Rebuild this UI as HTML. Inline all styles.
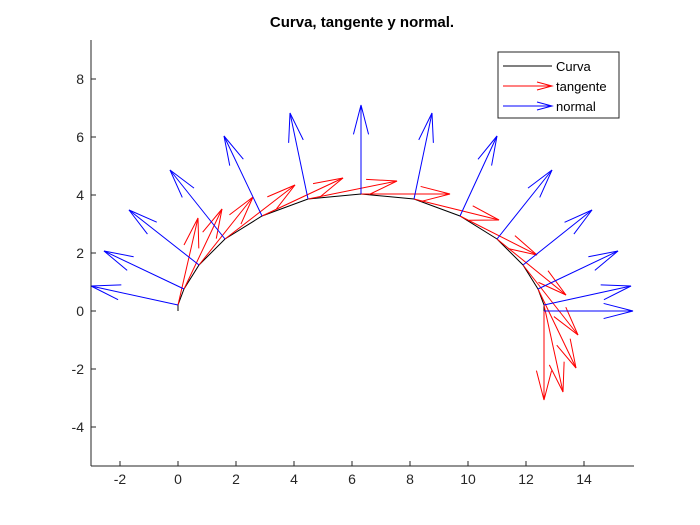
<!DOCTYPE html>
<html><head><meta charset="utf-8"><style>
html,body{margin:0;padding:0;background:#fff}
svg{display:block;font-family:"Liberation Sans",sans-serif}
</style></head><body>
<svg id="s" width="700" height="525" viewBox="0 0 700 525">
<rect width="700" height="525" fill="#fff"/>
<text x="362" y="27" text-anchor="middle" font-size="15" font-weight="bold" fill="#000">Curva, tangente y normal.</text>
<g id="plot"></g>
<g stroke="#262626" stroke-width="1" fill="none">
<line x1="91" y1="40" x2="91" y2="466"/>
<line x1="91" y1="466" x2="634" y2="466"/>
</g>
<g id="ticks" font-size="14" fill="#262626"></g>
<rect x="498" y="52" width="121" height="66" fill="#fff" stroke="#262626" stroke-width="1"/>
<line x1="503" y1="66" x2="552" y2="66" stroke="#000"/>
<text x="556" y="71" font-size="13">Curva</text>
<g stroke="#f00" fill="none"><line x1="503" y1="86" x2="552" y2="86"/><polyline points="537,82 552,86 537,90"/></g>
<text x="556" y="91" font-size="13">tangente</text>
<g stroke="#00f" fill="none"><line x1="503" y1="106" x2="552" y2="106"/><polyline points="537,102 552,106 537,110"/></g>
<text x="556" y="111" font-size="13">normal</text>
</svg>
<script>
var P=[[178,311],[178,305],[184,289],[199,265],[225,239],[262,216],[308,199],[361,194],[414,199],[460,216],[497,239],[523,265],[538,289],[544,305],[544,311]];
var R=[null,[198,218],[222,209],[253,197],[295,185],[343,178],[397,181],[450,194],[499,220],[537,255],[566,295],[578,335],[576,368],[563,392],[544,400]];
var B=[null,[91,286],[104,251],[129,210],[170,170],[224,136],[290,113],[361,105],[432,113],[497,136],[552,170],[592,210],[618,251],[631,286],[633,311]];
var g=document.getElementById('plot'),h='';
function arrow(a,b,c){var dx=b[0]-a[0],dy=b[1]-a[1],L=Math.hypot(dx,dy),ux=dx/L,uy=dy/L,hl=0.33*L,hw=0.085*L;
var bx=b[0]-ux*hl,by=b[1]-uy*hl;
return '<g stroke="'+c+'" fill="none" stroke-width="1"><line x1="'+a[0]+'" y1="'+a[1]+'" x2="'+b[0]+'" y2="'+b[1]+'"/><polyline points="'+(bx-uy*hw)+','+(by+ux*hw)+' '+b[0]+','+b[1]+' '+(bx+uy*hw)+','+(by-ux*hw)+'"/></g>';}
h+='<polyline fill="none" stroke="#000" stroke-width="1" points="'+P.map(function(p){return p.join(',')}).join(' ')+'"/>';
for(var i=1;i<P.length;i++){h+=arrow(P[i],R[i],'#f00');}
for(var i=1;i<P.length;i++){h+=arrow(P[i],B[i],'#00f');}
g.innerHTML=h;
var t='';
for(var v=-2;v<=14;v+=2){var x=178+29*v;t+='<line x1="'+x+'" y1="466" x2="'+x+'" y2="461" stroke="#262626"/><text x="'+x+'" y="484" text-anchor="middle">'+v+'</text>';}
for(var v=-4;v<=8;v+=2){var y=311-29*v;t+='<line x1="91" y1="'+y+'" x2="96" y2="'+y+'" stroke="#262626"/><text x="84" y="'+(y+5)+'" text-anchor="end">'+v+'</text>';}
document.getElementById('ticks').innerHTML=t;
</script>
</body></html>
